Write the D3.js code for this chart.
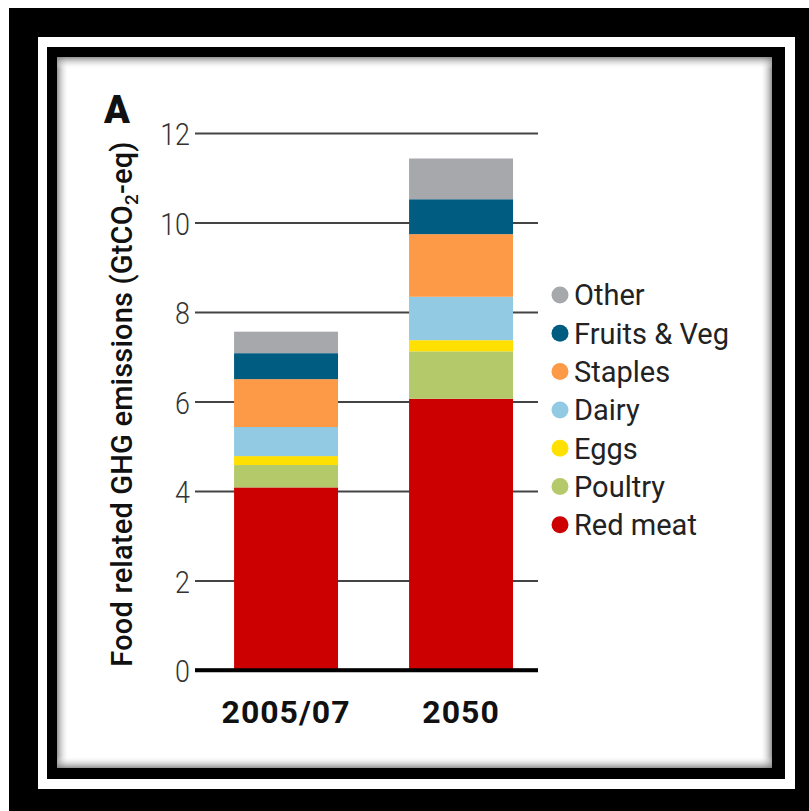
<!DOCTYPE html>
<html>
<head>
<meta charset="utf-8">
<script src="https://cdn.jsdelivr.net/npm/d3@7"></script>
<style>
  body { margin: 0; background: #fff; }
  svg { display: block; }
</style>
</head>
<body>
<script>
var periods = ["2005/07", "2050"];
var categories = ["Red meat", "Poultry", "Eggs", "Dairy", "Staples", "Fruits & Veg", "Other"];
var colors = ["#cc0000", "#b4c96a", "#ffe000", "#92cae4", "#fd9a48", "#005c80", "#a7a8ac"];
// values per category, one per period
var redMeat   = [4.08, 6.06];
var poultry   = [0.50, 1.06];
var eggs      = [0.20, 0.25];
var dairy     = [0.65, 0.97];
var staples   = [1.07, 1.40];
var fruitsVeg = [0.58, 0.78];
var other     = [0.48, 0.91];
var yTicks = [0, 2, 4, 6, 8, 10, 12];

var series = [redMeat, poultry, eggs, dairy, staples, fruitsVeg, other];
var rows = periods.map(function(p, i) {
  var r = {period: p};
  categories.forEach(function(c, k) { r[c] = series[k][i]; });
  return r;
});

var W = 809, H = 811;
var svg = d3.select("body").append("svg").attr("width", W).attr("height", H);

// frame
svg.append("rect").attr("x", 9).attr("y", 8).attr("width", W - 9).attr("height", H - 8).attr("fill", "#000");
svg.append("rect").attr("x", 38).attr("y", 37).attr("width", 795 - 38).attr("height", 789 - 37).attr("fill", "#fff");
svg.append("rect").attr("x", 47).attr("y", 47).attr("width", 785 - 47).attr("height", 779 - 47).attr("fill", "#000");
svg.append("rect").attr("x", 57).attr("y", 57).attr("width", 772 - 57).attr("height", 768 - 57).attr("fill", "#fff");

// inner shadow
var defs = svg.append("defs");
function grad(id, x1, y1, x2, y2) {
  var g = defs.append("linearGradient").attr("id", id)
    .attr("x1", x1).attr("y1", y1).attr("x2", x2).attr("y2", y2);
  g.append("stop").attr("offset", "0").attr("stop-color", "#777").attr("stop-opacity", 0.8);
  g.append("stop").attr("offset", "1").attr("stop-color", "#fff").attr("stop-opacity", 0);
}
grad("gl", 0, 0, 1, 0); grad("gr", 1, 0, 0, 0); grad("gt", 0, 0, 0, 1); grad("gb", 0, 1, 0, 0);
var sh = 12;
svg.append("rect").attr("x", 57).attr("y", 57).attr("width", sh).attr("height", 711).attr("fill", "url(#gl)");
svg.append("rect").attr("x", 772 - sh).attr("y", 57).attr("width", sh).attr("height", 711).attr("fill", "url(#gr)");
svg.append("rect").attr("x", 57).attr("y", 57).attr("width", 715).attr("height", sh).attr("fill", "url(#gt)");
svg.append("rect").attr("x", 57).attr("y", 768 - sh).attr("width", 715).attr("height", sh).attr("fill", "url(#gb)");

// scales
var y = d3.scaleLinear().domain([0, 12]).range([670, 133]);
var x = d3.scaleBand().domain(periods).range([195, 538]).paddingInner(0.406).paddingOuter(0.183).align(0.61);

// grid + axis
var yAxis = d3.axisLeft(y).tickValues(yTicks).tickSize(-(538 - 195)).tickPadding(6);
var gy = svg.append("g").attr("transform", "translate(195,0)").call(yAxis);
gy.select(".domain").remove();
gy.selectAll(".tick line").attr("stroke", "#444").attr("stroke-width", 2)
  .filter(function(d) { return d === 0; }).attr("stroke", "#000").attr("stroke-width", 3.5);
gy.selectAll(".tick text").attr("font-family", "Roboto, sans-serif").attr("font-weight", 300)
  .attr("font-size", 32).attr("fill", "#333").attr("dy", "0.36em")
  .attr("transform", "scale(0.84,1)");

// bars
var stack = d3.stack().keys(categories)(rows);
svg.append("g").selectAll("g").data(stack).enter().append("g")
  .attr("fill", function(d, i) { return colors[i]; })
  .selectAll("rect").data(function(d) { return d; }).enter().append("rect")
  .attr("x", function(d) { return x(d.data.period); })
  .attr("width", x.bandwidth())
  .attr("y", function(d) { return y(d[1]); })
  .attr("height", function(d) { return y(d[0]) - y(d[1]); });

// zero line over bars
svg.append("line").attr("x1", 195).attr("x2", 538).attr("y1", y(0)).attr("y2", y(0))
  .attr("stroke", "#000").attr("stroke-width", 3.5);

// x labels
svg.append("g").selectAll("text").data(periods).enter().append("text")
  .attr("x", function(d) { return x(d) + x.bandwidth() / 2; })
  .attr("y", 723)
  .attr("text-anchor", "middle")
  .attr("font-family", "Roboto, sans-serif").attr("font-weight", 700)
  .attr("font-size", 32).attr("letter-spacing", 1).attr("fill", "#111")
  .text(function(d) { return d; });

// panel label
svg.append("text").attr("x", 104).attr("y", 123)
  .attr("font-family", "Roboto, sans-serif").attr("font-weight", 900)
  .attr("font-size", 38).attr("fill", "#111").text("A");

// y title
var t = svg.append("text").attr("transform", "translate(132,404) rotate(-90)")
  .attr("text-anchor", "middle")
  .attr("font-family", "Roboto, sans-serif").attr("font-weight", 500)
  .attr("font-size", 29).attr("letter-spacing", 0.2).attr("fill", "#111");
t.append("tspan").text("Food related GHG emissions (GtCO");
t.append("tspan").attr("font-size", 19).attr("dy", 6).text("2");
t.append("tspan").attr("dy", -6).text("-eq)");

// legend
var legendItems = categories.slice().reverse();
var legendColors = colors.slice().reverse();
var lg = svg.append("g").selectAll("g").data(legendItems).enter().append("g")
  .attr("transform", function(d, i) { return "translate(560," + (295 + i * 38.3) + ")"; });
lg.append("circle").attr("r", 8.5).attr("fill", function(d, i) { return legendColors[i]; });
lg.append("text").attr("x", 14).attr("dy", "0.36em")
  .attr("font-family", "Roboto, sans-serif").attr("font-size", 29).attr("fill", "#222")
  .text(function(d) { return d; });
</script>
</body>
</html>
